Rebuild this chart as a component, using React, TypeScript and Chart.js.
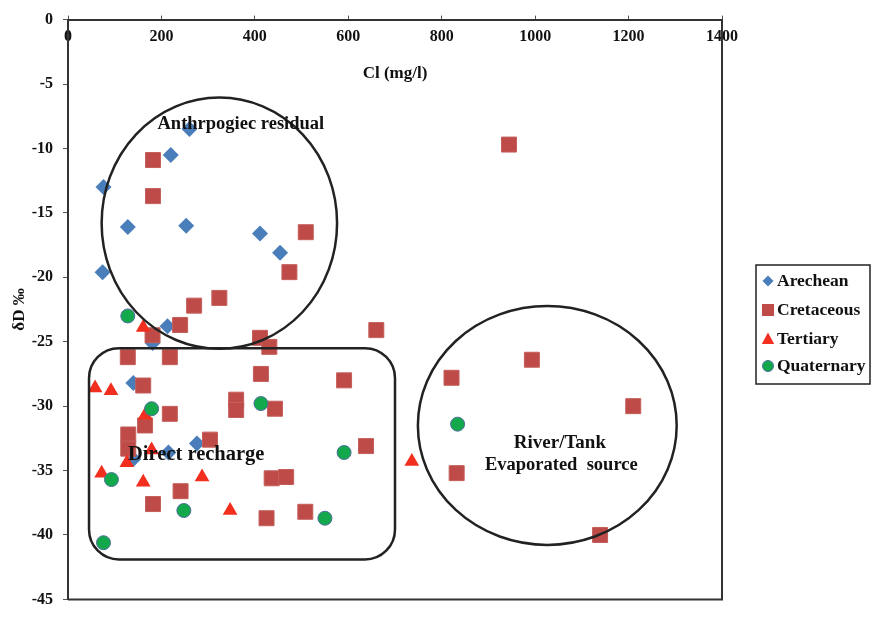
import React, { useEffect, useRef } from 'react';
import { Chart, registerables } from 'chart.js';

Chart.register(...registerables);

const FONT = '"Liberation Serif", "Times New Roman", Times, serif';

// ---- data (Cl mg/l, δD ‰) ----
const seriesNames = ['Arechean', 'Cretaceous', 'Tertiary', 'Quaternary'];

const arecheanCl = [260, 220, 76, 128, 253, 411, 454, 74, 213, 181, 140, 276, 215, 140];
const arecheanDD = [-8.5, -10.5, -13.0, -16.1, -16.0, -16.6, -18.1, -19.6, -23.8, -25.1, -28.2, -32.9, -33.6, -34.1];

const cretaceousCl = [944, 182, 182, 509, 474, 324, 270, 240, 181, 660, 411, 431, 128, 218, 993, 413, 821, 591, 161, 360, 360, 443, 218, 1210, 165, 129, 129, 304, 638, 832, 436, 467, 241, 182, 508, 425, 1139];
const cretaceousDD = [-9.7, -10.9, -13.7, -16.5, -19.6, -21.6, -22.2, -23.7, -24.5, -24.1, -24.7, -25.4, -26.2, -26.2, -26.4, -27.5, -27.8, -28.0, -28.4, -29.5, -30.3, -30.2, -30.6, -30.0, -31.5, -32.2, -33.3, -32.6, -33.1, -35.2, -35.6, -35.5, -36.6, -37.6, -38.2, -38.7, -40.0];

const tertiaryCl = [161, 58, 92, 165, 179, 126, 72, 161, 287, 347, 736];
const tertiaryDD = [-23.9, -28.6, -28.8, -30.7, -33.4, -34.4, -35.2, -35.9, -35.5, -38.1, -34.3];

const quaternaryCl = [128, 179, 413, 591, 93, 248, 550, 76, 834];
const quaternaryDD = [-23.0, -30.2, -29.8, -33.6, -35.7, -38.1, -38.7, -40.6, -31.4];

const xMin = 0, xMax = 1400, xStep = 200;
const yMin = -45, yMax = 0, yStep = 5;

// ---- annotation shapes (data units) ----
const ellipses = [
  { cx: 324, cy: -15.8, rx: 252, ry: 9.75 },
  { cx: 1026, cy: -31.5, rx: 277, ry: 9.27 },
];
const groupBox = { x0: 45, x1: 700, y0: -25.5, y1: -41.9 };
const noteTexts = [
  { text: 'Anthrpogiec residual', x: 370, y: -8.1, align: 'center', size: 18.5 },
  { text: 'Direct recharge', x: 128.5, y: -33.8, align: 'left', size: 20.5 },
  { text: 'River/Tank', x: 1053, y: -32.9, align: 'center', size: 19 },
  { text: 'Evaporated  source', x: 1056, y: -34.6, align: 'center', size: 18.5 },
];

const colors = {
  arechean: '#4A7EBB',
  cretaceous: '#BE4B48',
  tertiary: '#F22E1F',
  quaternary: '#12A84B',
};

function toPts(xs: number[], ys: number[]) {
  return xs.map((v, i) => ({ x: v, y: ys[i] }));
}

function drawMarker(ctx: CanvasRenderingContext2D, style: string, x: number, y: number, r: number, fill: string, stroke?: string) {
  ctx.beginPath();
  if (style === 'rectRot') {
    ctx.moveTo(x, y - r);
    ctx.lineTo(x + r, y);
    ctx.lineTo(x, y + r);
    ctx.lineTo(x - r, y);
    ctx.closePath();
  } else if (style === 'rect') {
    ctx.rect(x - r, y - r, 2 * r, 2 * r);
  } else if (style === 'triangle') {
    ctx.moveTo(x, y - r);
    ctx.lineTo(x + r * 0.95, y + r * 0.75);
    ctx.lineTo(x - r * 0.95, y + r * 0.75);
    ctx.closePath();
  } else {
    ctx.arc(x, y, r, 0, Math.PI * 2);
  }
  ctx.fillStyle = fill;
  ctx.fill();
  if (stroke) {
    ctx.strokeStyle = stroke;
    ctx.lineWidth = 1;
    ctx.stroke();
  }
}

const decorPlugin = {
  id: 'decor',
  beforeDatasetsDraw(chart: any) {
    const { ctx, chartArea } = chart;
    ctx.save();
    ctx.strokeStyle = '#333';
    ctx.lineWidth = 2;
    ctx.beginPath();
    ctx.moveTo(chartArea.right, chartArea.top);
    ctx.lineTo(chartArea.right, chartArea.bottom);
    ctx.lineTo(chartArea.left, chartArea.bottom);
    ctx.stroke();
    ctx.restore();
  },
  afterDatasetsDraw(chart: any) {
    const { ctx } = chart;
    const xs = chart.scales.x;
    const ys = chart.scales.y;
    ctx.save();
    ctx.strokeStyle = '#222';
    ctx.lineWidth = 2.5;
    for (const e of ellipses) {
      const cx = xs.getPixelForValue(e.cx);
      const cy = ys.getPixelForValue(e.cy);
      const rx = Math.abs(xs.getPixelForValue(e.cx + e.rx) - cx);
      const ry = Math.abs(ys.getPixelForValue(e.cy + e.ry) - cy);
      ctx.beginPath();
      ctx.ellipse(cx, cy, rx, ry, 0, 0, Math.PI * 2);
      ctx.stroke();
    }
    // rounded box
    const l = xs.getPixelForValue(groupBox.x0);
    const r = xs.getPixelForValue(groupBox.x1);
    const t = ys.getPixelForValue(groupBox.y0);
    const b = ys.getPixelForValue(groupBox.y1);
    const rad = 30;
    ctx.beginPath();
    ctx.moveTo(l + rad, t);
    ctx.arcTo(r, t, r, b, rad);
    ctx.arcTo(r, b, l, b, rad);
    ctx.arcTo(l, b, l, t, rad);
    ctx.arcTo(l, t, r, t, rad);
    ctx.closePath();
    ctx.stroke();

    ctx.fillStyle = '#111';
    ctx.textBaseline = 'middle';
    for (const n of noteTexts) {
      ctx.font = `bold ${n.size}px ${FONT}`;
      ctx.textAlign = n.align as CanvasTextAlign;
      ctx.fillText(n.text, xs.getPixelForValue(n.x), ys.getPixelForValue(n.y));
    }
    ctx.restore();
  },
  afterDraw(chart: any) {
    const { ctx } = chart;
    ctx.save();
    // legend box
    const bx = 756, by = 265, bw = 114, bh = 119;
    ctx.strokeStyle = '#222';
    ctx.lineWidth = 1.5;
    ctx.strokeRect(bx, by, bw, bh);
    const styles = ['rectRot', 'rect', 'triangle', 'circle'];
    const fills = [colors.arechean, colors.cretaceous, colors.tertiary, colors.quaternary];
    const sizes = [5.5, 6, 6.5, 5.5];
    const rowY = [281, 310, 339, 366];
    ctx.font = `bold 17.5px ${FONT}`;
    ctx.textBaseline = 'middle';
    ctx.textAlign = 'left';
    seriesNames.forEach((name, i) => {
      drawMarker(ctx, styles[i], 768, rowY[i], sizes[i], fills[i], i === 3 ? '#4F6E9E' : undefined);
      ctx.fillStyle = '#111';
      ctx.fillText(name, 777, rowY[i]);
    });
    ctx.restore();
  },
};

export default function App() {
  const ref = useRef<HTMLCanvasElement | null>(null);

  useEffect(() => {
    document.body.style.margin = '0';
    const canvas = ref.current;
    if (!canvas) return;
    const tickFont = { family: FONT, size: 16, weight: 'bold' as const };
    const chart = new Chart(canvas, {
      type: 'scatter',
      data: {
        datasets: [
          {
            label: seriesNames[0],
            data: toPts(arecheanCl, arecheanDD),
            pointStyle: 'rectRot',
            pointRadius: 8,
            backgroundColor: colors.arechean,
            borderColor: colors.arechean,
            borderWidth: 0,
            order: 4,
          },
          {
            label: seriesNames[1],
            data: toPts(cretaceousCl, cretaceousDD),
            pointStyle: 'rect',
            pointRadius: 10.6,
            backgroundColor: colors.cretaceous,
            borderColor: '#C45F5C',
            borderWidth: 1,
            order: 3,
          },
          {
            label: seriesNames[2],
            data: toPts(tertiaryCl, tertiaryDD),
            pointStyle: 'triangle',
            pointRadius: 8.5,
            backgroundColor: colors.tertiary,
            borderColor: colors.tertiary,
            borderWidth: 0,
            order: 2,
          },
          {
            label: seriesNames[3],
            data: toPts(quaternaryCl, quaternaryDD),
            pointStyle: 'circle',
            pointRadius: 7,
            backgroundColor: colors.quaternary,
            borderColor: '#4F6E9E',
            borderWidth: 1,
            order: 1,
          },
        ],
      },
      options: {
        responsive: false,
        animation: false,
        devicePixelRatio: 1,
        layout: { padding: { left: 0, top: 0, right: 155, bottom: 11 } },
        plugins: {
          legend: { display: false },
          tooltip: { enabled: false },
        },
        scales: {
          x: {
            type: 'linear',
            position: 'top',
            min: xMin,
            max: xMax,
            ticks: {
              stepSize: xStep,
              autoSkip: false,
              maxRotation: 0,
              mirror: true,
              padding: 7.4,
              color: '#111',
              font: tickFont,
              callback: (v: any) => String(v),
            },
            grid: { drawOnChartArea: false, drawTicks: true, tickLength: 4, color: '#555' },
            border: { display: true, color: '#333', width: 2 },
            title: {
              display: true,
              text: 'Cl (mg/l)',
              color: '#111',
              font: { family: FONT, size: 17, weight: 'bold' },
              padding: { top: 56.8, bottom: 0 },
            },
            afterFit: (s: any) => { s.height = 13; },
          },
          y: {
            type: 'linear',
            position: 'left',
            min: yMin,
            max: yMax,
            ticks: {
              stepSize: yStep,
              padding: 10,
              color: '#111',
              font: tickFont,
            },
            grid: { drawOnChartArea: false, drawTicks: true, tickLength: 5, color: '#555' },
            border: { display: true, color: '#333', width: 2 },
            title: {
              display: true,
              text: 'δD ‰',
              color: '#111',
              font: { family: FONT, size: 17, weight: 'bold' },
              padding: { top: 9, bottom: 0 },
            },
            afterFit: (s: any) => { s.width = 68; },
          },
        },
      } as any,
      plugins: [decorPlugin],
    });
    return () => chart.destroy();
  }, []);

  return (
    <div style={{ width: 877, height: 619, background: '#fff' }}>
      <canvas ref={ref} width={877} height={619} style={{ display: 'block' }} />
    </div>
  );
}
